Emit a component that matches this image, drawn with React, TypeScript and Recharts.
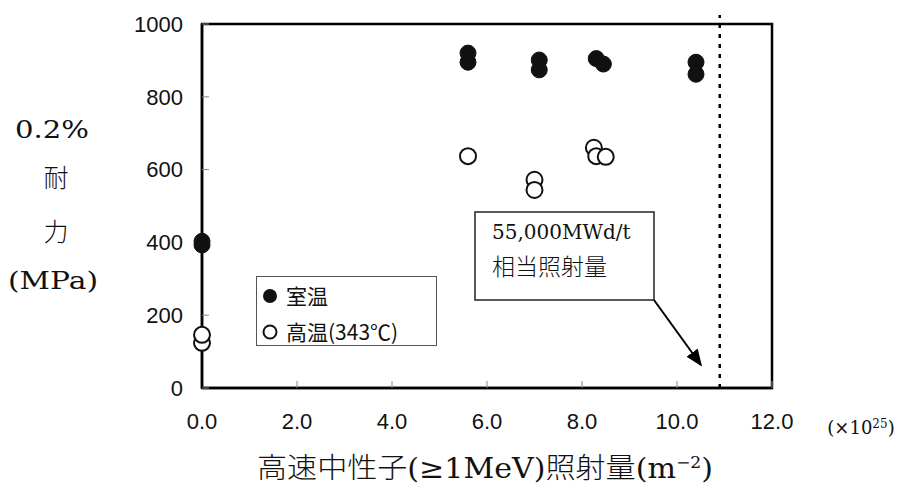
import {
  ScatterChart, Scatter, XAxis, YAxis, ReferenceLine, ReferenceArea,
} from "recharts";

const roomX = [0, 0, 5.6, 5.6, 7.1, 7.1, 8.3, 8.45, 10.4, 10.4];
const roomY = [393, 403, 895, 920, 874, 901, 905, 890, 862, 895];
const hotX = [0, 0, 5.6, 7.0, 7.0, 8.25, 8.3, 8.5];
const hotY = [124, 146, 637, 572, 544, 660, 637, 635];
const xTicks = [0, 2, 4, 6, 8, 10, 12];
const yTicks = [0, 200, 400, 600, 800, 1000];
const limitFluence = 10.9;
const seriesNames = ["室温", "高温(343℃)"];

const roomData = roomX.map((x, i) => ({ x, y: roomY[i] }));
const hotData = hotX.map((x, i) => ({ x, y: hotY[i] }));

const SANS = "'Liberation Sans', Arial, sans-serif";
const SERIF = "'DejaVu Serif', 'Liberation Serif', 'Noto Sans CJK JP', serif";
const CJK = "'Noto Sans CJK JP', sans-serif";

function FilledDot({ cx, cy }: any) {
  return <circle cx={cx} cy={cy} r={8} fill="#111" stroke="#111" strokeWidth={1} />;
}

function OpenDot({ cx, cy }: any) {
  return <circle cx={cx} cy={cy} r={8} fill="#fff" stroke="#111" strokeWidth={2} />;
}

export default function App() {
  return (
    <div style={{ position: "absolute", left: 0, top: 0, width: 900, height: 494, background: "#fff" }}>
      <ScatterChart width={900} height={494} margin={{ top: 24, right: 128, left: 142, bottom: 76 }}>
        <XAxis
          type="number"
          dataKey="x"
          domain={[0, 12]}
          ticks={xTicks}
          tickFormatter={(v: number) => v.toFixed(1)}
          height={30}
          axisLine={{ stroke: "#000", strokeWidth: 2.5 }}
          tickLine={{ stroke: "#888" }}
          tickSize={-7}
          tickMargin={32}
          tick={{ fill: "#111", fontSize: 22, fontFamily: SANS }}
        />
        <YAxis
          type="number"
          dataKey="y"
          domain={[0, 1000]}
          ticks={yTicks}
          width={60}
          axisLine={{ stroke: "#000", strokeWidth: 2.5 }}
          tickLine={{ stroke: "#888" }}
          tickSize={-7}
          tickMargin={26}
          tick={{ fill: "#111", fontSize: 22, fontFamily: SANS }}
        />
        <ReferenceArea x1={0} x2={12} y1={0} y2={1000} fill="none" stroke="#000" strokeWidth={2.5} />
        <ReferenceLine
          segment={[{ x: limitFluence, y: 0 }, { x: limitFluence, y: 1025 }]}
          ifOverflow="visible"
          stroke="#000"
          strokeWidth={2.5}
          strokeDasharray="4 6"
        />
        <Scatter data={roomData} shape={<FilledDot />} isAnimationActive={false} />
        <Scatter data={hotData} shape={<OpenDot />} isAnimationActive={false} />
      </ScatterChart>
      <svg width={900} height={494} style={{ position: "absolute", left: 0, top: 0, pointerEvents: "none" }}>
        <defs>
          <marker id="arrowHead" viewBox="0 0 10 10" refX={9} refY={5} markerUnits="userSpaceOnUse"
            markerWidth={17} markerHeight={14} orient="auto" preserveAspectRatio="none">
            <path d="M0,0 L10,5 L0,10 z" fill="#000" />
          </marker>
        </defs>
        <g transform="translate(256,276)">
          <rect x={0.5} y={0.5} width={180} height={69} fill="#fff" stroke="#555" strokeWidth={1} />
          <circle cx={14} cy={20} r={7} fill="#111" />
          <text x={30} y={28} fontFamily={CJK} fontSize={21} fill="#111">{seriesNames[0]}</text>
          <circle cx={14} cy={56} r={6.5} fill="#fff" stroke="#111" strokeWidth={2} />
          <text x={30} y={64} fontFamily={CJK} fontSize={21} fill="#111">{seriesNames[1]}</text>
        </g>
        <g fontFamily={SERIF} fill="#111" textAnchor="middle">
          <text x={52} y={138} fontSize={25} textLength={74} lengthAdjust="spacingAndGlyphs">0.2%</text>
          <text x={56} y={187} fontSize={25} fontFamily={CJK} fontWeight={300}>耐</text>
          <text x={56} y={241} fontSize={25} fontFamily={CJK} fontWeight={300}>力</text>
          <text x={53} y={289} fontSize={25} textLength={90} lengthAdjust="spacingAndGlyphs">(MPa)</text>
          <text x={861} y={434} fontSize={18}>
            (×10<tspan fontSize={12} dy={-6}>25</tspan><tspan dy={6}>)</tspan>
          </text>
          <text x={485} y={478} fontSize={28} textLength={456} lengthAdjust="spacingAndGlyphs">
            <tspan fontFamily={CJK} fontWeight={300}>高速中性子</tspan>(≥1MeV)<tspan fontFamily={CJK} fontWeight={300}>照射量</tspan>(m<tspan fontSize={16} dy={-10}>−2</tspan><tspan dy={10}>)</tspan>
          </text>
        </g>
        <rect x={475} y={212} width={179} height={88} fill="#fff" stroke="#222" strokeWidth={1.5} />
        <text x={492} y={239} fontFamily={SERIF} fontSize={20} fill="#111">55,000MWd/t</text>
        <text x={492} y={275} fontFamily={CJK} fontWeight={300} fontSize={23} fill="#111">相当照射量</text>
        <line x1={654} y1={300} x2={701} y2={365} stroke="#000" strokeWidth={2} markerEnd="url(#arrowHead)" />
      </svg>
    </div>
  );
}
